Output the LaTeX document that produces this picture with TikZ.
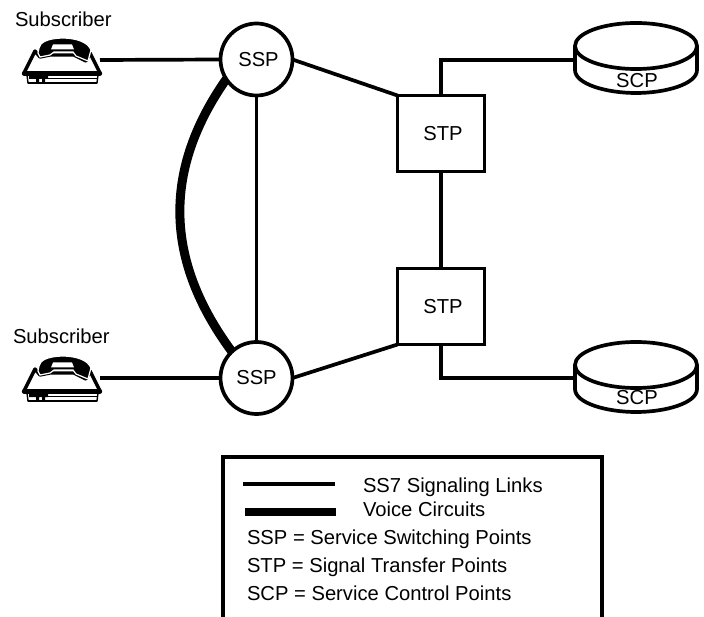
\documentclass[tikz,border=0pt]{standalone}
\usepackage{fontspec}
\setmainfont{Liberation Sans}
\tikzset{
  x=1pt,y=-1pt,
  link/.style={line width=3.7pt,line join=miter},
  voice/.style={line width=9pt},
  sspnode/.style={circle,draw,line width=3.7pt,fill=white,minimum size=72pt,inner sep=0pt,outer sep=0pt},
  stpnode/.style={rectangle,draw,line width=3.7pt,fill=white,minimum width=87pt,minimum height=76pt,inner sep=0pt,outer sep=0pt},
  holder/.style={rectangle,minimum width=122pt,minimum height=66pt,inner sep=0pt,outer sep=0pt},
  phoneholder/.style={rectangle,minimum width=78pt,minimum height=46pt,inner sep=0pt,outer sep=0pt},
  txt/.style={inner sep=0pt,outer sep=0pt,anchor=base west,font=\fontsize{20.2pt}{22pt}\selectfont},
  diagramlabel/.style={font=\fontsize{20.2pt}{22pt}\selectfont},
  scpbody/.pic={
    \draw[line width=3.7pt,fill=white] (-61,-14) -- (-61,10)
       .. controls (-61,24) and (-30,33) .. (0,33)
       .. controls (30,33) and (61,24) .. (61,10) -- (61,-14);
    \draw[line width=3.7pt,fill=white] (0,-14) ellipse [x radius=61pt,y radius=23pt];
  },
  phonebody/.pic={
    \begin{scope}[shift={(-61,-60)}]
      % base
      \draw[line width=1.4pt,fill=white] (27,75) -- (28,83) -- (97,83) -- (98,75) -- cycle;
      \draw[line width=2.4pt] (28,83) -- (97,83);
      \fill (29,76) -- (48,76) -- (48,79) -- (45,79) -- (45,82) -- (42,82) -- (42,79) -- (39,79) -- (39,82) -- (36,82) -- (36,79) -- (29,79) -- cycle;
      \draw[line width=1pt] (48,78.5) -- (97,78.5);
      % body
      \draw[line width=3.4pt,line join=round,fill=white] (24,73) -- (35,51) -- (40,57) -- (50,55) -- (74,55) -- (86,61) -- (90,53) -- (100,73) -- cycle;
      \draw[line width=4.4pt,line cap=round] (24,73.5) -- (100,73.5);
      % handset
      \fill[draw=white,line width=1.2pt] (38,53) -- (39,48)
        .. controls (40,42) and (48,38.5) .. (62,38)
        .. controls (76,38) and (88,42) .. (91,50) -- (88,61) -- (76,56) -- (73,52) -- (54,52) -- (50,55) -- (40,57) -- cycle;
      \fill[white] (53,44.5) -- (72,44.5) -- (74,49.5) -- (51,49.5) -- cycle;
    \end{scope}
  }
}
\begin{document}
\begin{tikzpicture}
\useasboundingbox (0,0) rectangle (704,617);
% nodes
\node[sspnode,diagramlabel] (ssp1) at (256.5,59.5) {\hspace*{4pt}SSP};
\node[sspnode,diagramlabel] (ssp2) at (256.5,378) {SSP};
\node[stpnode,diagramlabel] (stp1) at (441,133.5) {\hspace*{4pt}STP};
\node[stpnode,diagramlabel] (stp2) at (441,306.5) {\hspace*{4pt}STP};
\node[holder] (scp1) at (636,60) {};
\node[holder] (scp2) at (636,378) {};
\node[phoneholder] (ph1) at (61,60) {};
\node[phoneholder] (ph2) at (61,378) {};
\pic at (scp1.center) {scpbody};
\pic at ([yshift=-1pt]scp2.center) {scpbody};
\pic at (ph1.center) {phonebody};
\pic at (ph2.center) {phonebody};
% texts
\node[txt] (sub1) at (15,27) {Subscriber};
\node[txt] (sub2) at (13,344) {Subscriber};
\node[diagramlabel,anchor=base,inner sep=0pt] (scp1t) at (637,88) {SCP};
\node[diagramlabel,anchor=base,inner sep=0pt] (scp2t) at (637,404) {SCP};
% connectors
\draw[link] (ph1.east) -- (ssp1.west);
\draw[link] (ph2.east) -- (ssp2.west);
\draw[link] (ssp1.south) -- (ssp2.north);
\draw[link] (ssp1.east) -- (stp1.north west);
\draw[link] (ssp2.east) -- (stp2.south west);
\draw[link] (stp1.south) -- (stp2.north);
\draw[link] (stp1.north) |- (scp1.west);
\draw[link] (stp2.south) |- (scp2.west);
\draw[voice] (ssp1.213) .. controls (162,171) and (165,261) .. (ssp2.133);
% legend
\coordinate (lbl) at (223,617);
\coordinate (lbr) at (602,617);
\draw[link,miter limit=10] (lbl) -- (223,457) -- (602,457) -- (lbr);
\coordinate (l1a) at (243,484);
\coordinate (l1b) at (335,484);
\coordinate (l2a) at (245,512);
\coordinate (l2b) at (336,512);
\draw[link] (l1a) -- (l1b);
\draw[line width=8.3pt] (l2a) -- (l2b);
\node[txt] (t1) at (363,492) {SS7 Signaling Links};
\node[txt] (t2) at (363,516) {Voice Circuits};
\node[txt] (t3) at (247,544) {SSP = Service Switching Points};
\node[txt] (t4) at (247,572) {STP = Signal Transfer Points};
\node[txt] (t5) at (247,600) {SCP = Service Control Points};
\end{tikzpicture}
\end{document}
